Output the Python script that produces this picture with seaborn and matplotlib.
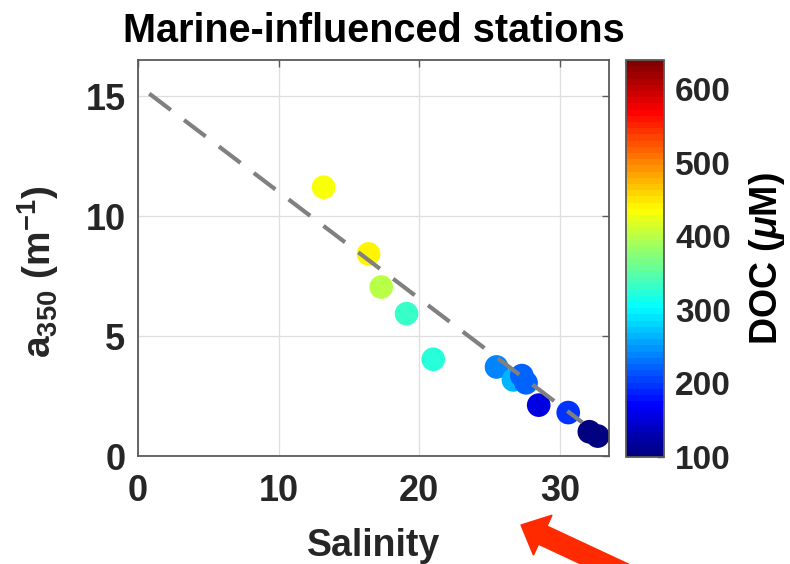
import numpy as np
import pandas as pd
import seaborn as sns
import matplotlib.pyplot as plt
from matplotlib.colors import LinearSegmentedColormap
from matplotlib.patches import FancyArrow

# Values
salinity = [13.2, 16.4, 17.3, 19.1, 21.0, 25.5, 26.7, 27.3, 27.6, 28.5, 30.6, 32.1, 32.7]
a350 = [11.2, 8.42, 7.04, 5.93, 4.03, 3.71, 3.17, 3.35, 3.05, 2.12, 1.81, 1.01, 0.83]
doc = [430, 438, 397, 336, 322, 242, 262, 221, 225, 158, 194, 107, 104]

# dashed regression line
fit_salinity = [0.8, 31.6]
fit_a350 = [15.1, 1.4]

x_ticks = [0, 10, 20, 30]
y_ticks = [0, 5, 10, 15]
cbar_ticks = [100, 200, 300, 400, 500, 600]
doc_range = (100, 640)

df = pd.DataFrame({'Salinity': salinity, 'a350': a350, 'DOC': doc})
fit_df = pd.DataFrame({'Salinity': fit_salinity, 'a350': fit_a350})

sns.set_theme(style='white')
plt.rcParams['font.family'] = ['Liberation Sans', 'DejaVu Sans']
plt.rcParams['font.weight'] = 'bold'
plt.rcParams['mathtext.fontset'] = 'custom'
plt.rcParams['mathtext.rm'] = 'Liberation Sans:bold'
plt.rcParams['mathtext.bf'] = 'Liberation Sans:bold'
plt.rcParams['mathtext.it'] = 'Liberation Sans:bold:italic'
plt.rcParams['mathtext.default'] = 'rm'

text_col = '#262626'
edge_col = '#5a5a5a'

# MATLAB-style jet, 64 levels
jet = LinearSegmentedColormap.from_list('matlab_jet', [
    (0.0, (0, 0, 0.5)), (0.125, (0, 0, 1)), (0.375, (0, 1, 1)),
    (0.625, (1, 1, 0)), (0.875, (1, 0, 0)), (1.0, (0.5, 0, 0))], N=64)

fig = plt.figure(figsize=(7.9, 5.64), dpi=100)
ax = fig.add_axes([138 / 790, 108 / 564, 471 / 790, 396 / 564])
cax = fig.add_axes([626 / 790, 107 / 564, 38 / 790, 397 / 564])

ax.grid(True, color='#dedede', linewidth=0.9)
ax.set_axisbelow(True)

sns.lineplot(data=fit_df, x='Salinity', y='a350', ax=ax, color='#808080',
             linewidth=3, linestyle=(0, (6.5, 4)), zorder=3)
sns.scatterplot(data=df, x='Salinity', y='a350', hue='DOC', palette=jet,
                hue_norm=doc_range, s=290, linewidth=0, legend=False, ax=ax, zorder=2)

ax.set_xlim(0, 33.5)
ax.set_ylim(0, 16.5)
ax.set_xticks(x_ticks)
ax.set_yticks(y_ticks)
ax.tick_params(direction='in', length=5, width=1, color=edge_col, labelsize=26,
               labelcolor=text_col, top=True, right=True)
ax.tick_params(axis='x', pad=13)
ax.tick_params(axis='y', pad=9)
for sp in ax.spines.values():
    sp.set_color(edge_col)
    sp.set_linewidth(1.3)

ax.set_title('Marine-influenced stations', fontsize=28.5, fontweight='bold',
             color='black', pad=13)
ax.set_xlabel('Salinity', fontsize=27, fontweight='bold', color=text_col)
ax.xaxis.set_label_coords(0.5, -0.183)
ax.set_ylabel(r'a$_{350}$ (m$^{-1}$)', fontsize=28, fontweight='bold', color=text_col)
ax.yaxis.set_label_coords(-0.163, 0.465)

# colorbar
sm = plt.cm.ScalarMappable(cmap=jet, norm=plt.Normalize(*doc_range))
cbar = fig.colorbar(sm, cax=cax)
cbar.set_ticks(cbar_ticks)
cbar.outline.set_edgecolor(edge_col)
cbar.outline.set_linewidth(1.3)
cax.tick_params(direction='in', length=5, width=1, color=edge_col, labelsize=24,
                labelcolor=text_col, pad=8)
cax.set_ylabel(r'DOC ($\mathit{\mu}$M)', fontsize=27, fontweight='bold', color='black')
cax.yaxis.set_label_coords(3.18, 0.5)

# red arrow pointing at the salinity axis
ang = np.deg2rad(25)
tip_x, tip_y = 5.21, 0.39
tail_len = 2.2
tail_x = tip_x + tail_len * np.cos(ang)
tail_y = tip_y - tail_len * np.sin(ang)
arrow = FancyArrow(tail_x, tail_y, tip_x - tail_x, tip_y - tail_y, width=0.2,
                   head_width=0.44, head_length=0.24, length_includes_head=True,
                   color='#ff2a00', transform=fig.dpi_scale_trans, clip_on=False)
fig.add_artist(arrow)

fig.savefig('out.png', dpi=100)
